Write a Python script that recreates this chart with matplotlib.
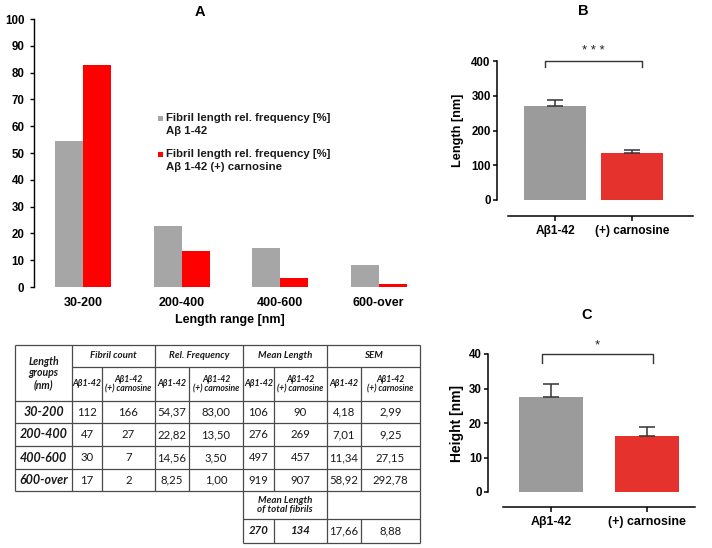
import matplotlib
matplotlib.use("Agg")
import matplotlib.pyplot as plt
from matplotlib.patches import Rectangle

plt.rcParams['font.family'] = ['Liberation Sans', 'DejaVu Sans']

# ---------------- data ----------------
categories = ['30-200', '200-400', '400-600', '600-over']
freq_ab = [54.37, 22.82, 14.56, 8.25]
freq_carn = [83.00, 13.50, 3.50, 1.00]
count_ab = [112, 47, 30, 17]
count_carn = [166, 27, 7, 2]
mean_ab = [106, 276, 497, 919]
mean_carn = [90, 269, 457, 907]
sem_ab = [4.18, 7.01, 11.34, 58.92]
sem_carn = [2.99, 9.25, 27.15, 292.78]
total_mean = [270, 134]
total_sem = [17.66, 8.88]
groups = ['Aβ1-42', '(+) carnosine']
height_mean = [27.6, 16.3]
height_sem = [3.6, 2.4]
legend_labels = [['Fibril length rel. frequency [%]', 'Aβ 1-42'],
                 ['Fibril length rel. frequency [%]', 'Aβ 1-42 (+) carnosine']]

GRAY_A, RED_A = '#A6A6A6', '#FF0000'
GRAY_B, RED_B = '#9B9B9B', '#E5322D'
W, H = 712, 548

fig = plt.figure(figsize=(W / 100, H / 100), dpi=100)


def fbox(l, t, r, b):
    return [l / W, 1 - b / H, (r - l) / W, (b - t) / H]


# full-figure pixel axes for table and legend (drawn on top, transparent)
axT = fig.add_axes([0, 0, 1, 1], zorder=5)
axT.set_xlim(0, W)
axT.set_ylim(H, 0)
axT.axis('off')
axT.patch.set_visible(False)

# ---------------- Panel A ----------------
axA = fig.add_axes(fbox(34, 19, 428, 287))
axA.patch.set_visible(False)
x = list(range(len(categories)))
bw = 0.284
axA.bar([i - bw / 2 for i in x], freq_ab, width=bw, color=GRAY_A)
axA.bar([i + bw / 2 for i in x], freq_carn, width=bw, color=RED_A)
axA.set_xlim(-0.5, 3.5)
axA.set_ylim(0, 100)
axA.set_yticks(range(0, 101, 10))
for s in ['top', 'right', 'bottom']:
    axA.spines[s].set_visible(False)
axA.spines['left'].set_linewidth(1.0)
axA.tick_params(axis='y', direction='out', length=3, width=1, pad=4, labelsize=8.3)
axA.tick_params(axis='x', length=0, pad=7, labelsize=9)
axA.set_xticks(x)
axA.set_xticklabels(categories)
for t in axA.get_xticklabels() + axA.get_yticklabels():
    t.set_fontweight('bold')
axA.set_xlabel('Length range [nm]', fontsize=9, fontweight='bold')
axA.xaxis.set_label_coords(0.497, -0.10)
fig.text(200 / W, 1 - 12 / H, 'A', ha='center', va='center', fontsize=10.5, fontweight='bold')

# legend (drawn in pixel axes)
for color, lines, y0 in zip([GRAY_A, RED_A], legend_labels, [118, 154]):
    axT.add_patch(Rectangle((157.5, y0 - 2.5), 5, 5, facecolor=color, edgecolor='none'))
    for j, ln in enumerate(lines):
        axT.text(166, y0 + 13 * j, ln, ha='left', va='center', fontsize=8.2,
                 fontweight='bold', color='#1a1a1a')


# ---------------- Panel B / C helper ----------------
def bar_panel(box, vals, errs, ylim, yticks, ylabel, ylsize, xlsize, xlim, bw, spine_left,
              ylabel_x, br_x, br_drop, star, star_y, title, title_xy, outward):
    ax = fig.add_axes(box)
    ax.patch.set_visible(False)
    ax.bar([0, 1], vals, width=bw, color=[GRAY_B, RED_B], zorder=2)
    ax.errorbar([0, 1], vals, yerr=[[0, 0], errs], fmt='none', ecolor='#333333',
                elinewidth=1.1, capsize=6, capthick=1.1, zorder=3)
    ax.set_xlim(*xlim)
    ax.set_ylim(*ylim)
    ax.set_yticks(yticks)
    ax.set_xticks([0, 1])
    ax.set_xticklabels(groups)
    for s in ['top', 'right']:
        ax.spines[s].set_visible(False)
    ax.spines['left'].set_bounds(ylim[0], ylim[1])
    ax.spines['left'].set_linewidth(1.1)
    ax.spines['bottom'].set_position(('outward', outward))
    ax.spines['bottom'].set_bounds(spine_left, xlim[1])
    ax.spines['bottom'].set_linewidth(1.1)
    ax.tick_params(axis='y', direction='out', length=3, width=1.1, pad=1.5, labelsize=8.3)
    ax.tick_params(axis='x', direction='out', length=3.5, width=1.1, pad=3, labelsize=xlsize)
    for t in ax.get_xticklabels() + ax.get_yticklabels():
        t.set_fontweight('bold')
    ax.set_ylabel(ylabel, fontsize=ylsize, fontweight='bold')
    ax.yaxis.set_label_coords(ylabel_x, 0.5)
    top = ylim[1]
    ax.plot([br_x[0], br_x[0], br_x[1], br_x[1]], [top - br_drop, top, top, top - br_drop],
            color='#333333', lw=1.0, clip_on=False)
    ax.text(sum(br_x) / 2, star_y, star, ha='center', va='center', fontsize=9.5,
            color='#222222', clip_on=False)
    fig.text(title_xy[0] / W, 1 - title_xy[1] / H, title, ha='center', va='center',
             fontsize=10.5, fontweight='bold')
    return ax


bar_panel(fbox(497, 61, 693, 200), total_mean, total_sem, (0, 400), range(0, 401, 100),
          'Length [nm]', 9.2, 8.6, (-0.758, 1.80), 0.81, -0.614, -0.17,
          (-0.13, 1.13), 17, '* * *', 428, 'B', (583, 11), 11.5)

bar_panel(fbox(488, 354, 695, 492), height_mean, height_sem, (0, 40), range(0, 41, 10),
          'Height [nm]', 10, 8.9, (-0.656, 1.5), 0.667, -0.5, -0.118,
          (-0.09, 1.06), 2.6, '*', 42.6, 'C', (587, 315), 11)

# ---------------- Table ----------------
cols = [15, 72, 102, 155, 189, 243, 274, 327, 361, 420]
rows = [345, 367, 401, 423, 446, 469, 491]
rows2 = [491, 519, 543]
lc, lw = '#4a4a4a', 0.9


def hl(y, x0, x1):
    axT.plot([x0, x1], [y, y], color=lc, lw=lw, solid_capstyle='butt')


def vl(xv, y0, y1):
    axT.plot([xv, xv], [y0, y1], color=lc, lw=lw, solid_capstyle='butt')


hl(rows[0], cols[0], cols[-1])
hl(rows[1], cols[1], cols[-1])
for y in rows[2:]:
    hl(y, cols[0], cols[-1])
for xv in [cols[0], cols[1], cols[3], cols[5], cols[7], cols[9]]:
    vl(xv, rows[0], rows[-1])
for xv in [cols[2], cols[4], cols[6], cols[8]]:
    vl(xv, rows[1], rows[-1])
for xv in [cols[5], cols[7], cols[9]]:
    vl(xv, rows2[0], rows2[2])
for xv in [cols[6], cols[8]]:
    vl(xv, rows2[1], rows2[2])
hl(rows2[1], cols[5], cols[9])
hl(rows2[2], cols[5], cols[9])

TF = ['Lato', 'DejaVu Sans']


def ctext(cx, cy, s, size, weight='normal', style='normal'):
    axT.text(cx, cy, s, ha='center', va='center', fontsize=size, fontweight=weight,
             fontstyle=style, family=TF, linespacing=1.05, color='#1a1a1a')


def mid(a, b):
    return (a + b) / 2


ctext(mid(cols[0], cols[1]), mid(rows[0], rows[2]), 'Length\ngroups\n(nm)', 7.6, 'bold', 'italic')
for name, (a, b) in zip(['Fibril count', 'Rel. Frequency', 'Mean Length', 'SEM'],
                        [(1, 3), (3, 5), (5, 7), (7, 9)]):
    ctext(mid(cols[a], cols[b]), mid(rows[0], rows[1]), name, 7, 'bold', 'italic')
for k in range(4):
    c0 = 1 + 2 * k
    ctext(mid(cols[c0], cols[c0 + 1]), mid(rows[1], rows[2]), 'Aβ1-42', 6.4, 'bold', 'italic')
    ctext(mid(cols[c0 + 1], cols[c0 + 2]), mid(rows[1], rows[2]), 'Aβ1-42\n(+) carnosine',
          6.2, 'bold', 'italic')


def fmt(v):
    return f'{v:.2f}'.replace('.', ',')


for r, cat in enumerate(categories):
    cy = mid(rows[2 + r], rows[3 + r])
    ctext(mid(cols[0], cols[1]), cy, cat, 9, 'bold', 'italic')
    vals = [str(count_ab[r]), str(count_carn[r]), fmt(freq_ab[r]), fmt(freq_carn[r]),
            str(mean_ab[r]), str(mean_carn[r]), fmt(sem_ab[r]), fmt(sem_carn[r])]
    for c, s in enumerate(vals):
        ctext(mid(cols[1 + c], cols[2 + c]), cy, s, 8.2)

ctext(mid(cols[5], cols[7]), mid(rows2[0], rows2[1]), 'Mean Length\nof total fibrils', 7, 'bold', 'italic')
cy = mid(rows2[1], rows2[2])
ctext(mid(cols[5], cols[6]), cy, str(total_mean[0]), 8.2, 'bold', 'italic')
ctext(mid(cols[6], cols[7]), cy, str(total_mean[1]), 8.2, 'bold', 'italic')
ctext(mid(cols[7], cols[8]), cy, fmt(total_sem[0]), 8.2)
ctext(mid(cols[8], cols[9]), cy, fmt(total_sem[1]), 8.2)

fig.savefig('out.png', dpi=100)
